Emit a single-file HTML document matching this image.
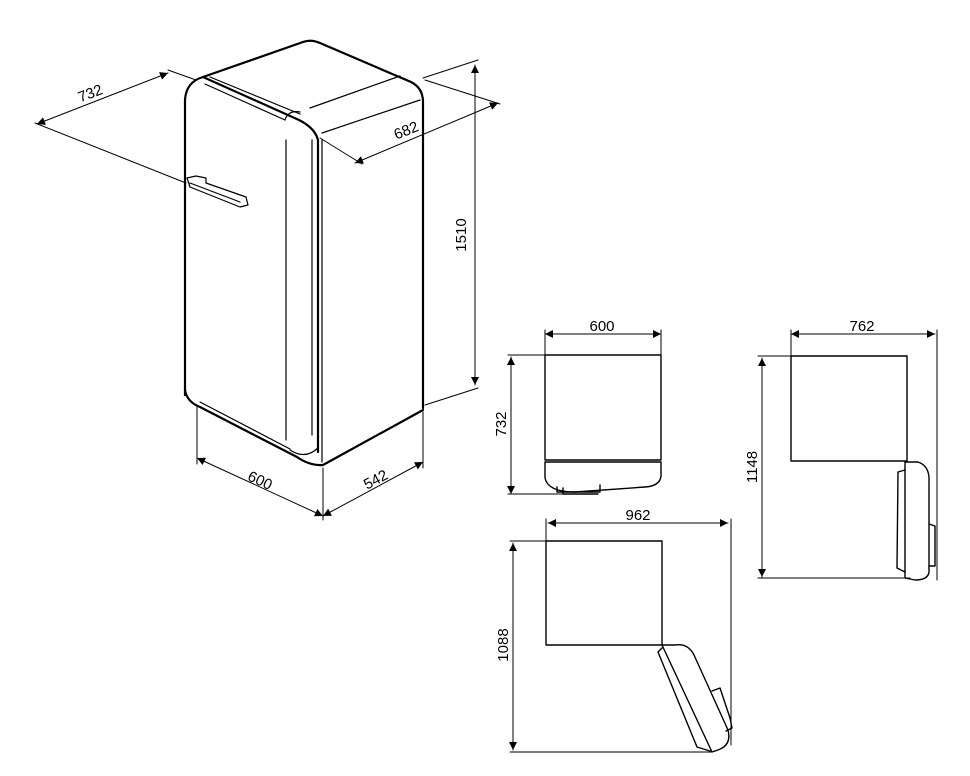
<!DOCTYPE html>
<html><head><meta charset="utf-8"><style>
html,body{margin:0;padding:0;background:#fff;}
svg{display:block;}
text{font-family:"Liberation Sans",sans-serif;font-size:15px;fill:#000;}
</style></head><body>
<svg width="970" height="776" viewBox="0 0 970 776" xmlns="http://www.w3.org/2000/svg">
<defs>
<marker id="a" viewBox="0 0 10 10" refX="10" refY="5" markerWidth="12" markerHeight="8" orient="auto-start-reverse" markerUnits="userSpaceOnUse"><path d="M0,0 L10,5 L0,10 z" fill="#000"/></marker>
</defs>
<g fill="none" stroke="#000" stroke-linecap="round" stroke-linejoin="round">
<g stroke-width="2.2">
<path d="M185,395 L185,100 Q186,82 203,77 L303,42 Q311,39 320,43 L411,82 Q423,88 423,102 L423,408"/>
<path d="M203,77 L299,120 Q315,128 318,140 L318,452"/>
<path d="M185,390 Q187,402 200,407 L297,457 Q310,466 323,465 L423,410"/>
</g>
<g stroke-width="1.2">
<path d="M210,77 L300,114"/>
<path d="M205,84 L285,120"/>
<path d="M310,108 L400,76"/>
<path d="M322,133 L420,100"/>
<path d="M285,120 Q288,110 300,112"/>
<path d="M286,140 L286,440"/>
<path d="M312,140 L312,435"/>
<path d="M322,140 L322,462"/>
<path d="M200,402 L290,449"/>
<path d="M290,450 Q305,460 318,448"/>
<path d="M187,178 L196,176 L206,178 L206,183 L246,197 L248,205 L240,207 L190,187 Z"/>
<path d="M190,183 L240,202"/>
</g>
<g stroke-width="1">
<line x1="37" y1="124" x2="168" y2="73" marker-start="url(#a)" marker-end="url(#a)"/>
<line x1="35" y1="123" x2="186" y2="183"/>
<line x1="168" y1="70" x2="196" y2="80"/>
<line x1="355" y1="163" x2="498" y2="103" marker-start="url(#a)" marker-end="url(#a)"/>
<line x1="320" y1="138" x2="362" y2="164"/>
<line x1="425" y1="80" x2="500" y2="104"/>
<line x1="475" y1="65" x2="475" y2="385" marker-start="url(#a)" marker-end="url(#a)"/>
<line x1="423" y1="78" x2="478" y2="60"/>
<line x1="425" y1="405" x2="478" y2="388"/>
<line x1="197" y1="458" x2="323" y2="516" marker-start="url(#a)" marker-end="url(#a)"/>
<line x1="323" y1="516" x2="423" y2="462" marker-start="url(#a)" marker-end="url(#a)"/>
<line x1="197" y1="407" x2="197" y2="464"/>
<line x1="323" y1="468" x2="323" y2="520"/>
<line x1="423" y1="412" x2="423" y2="468"/>
</g>
<g stroke-width="1.4">
<rect x="545" y="355" width="116" height="105"/>
<path d="M545,462 L661,462 L661,476 Q660,486 645,487 L575,492 Q548,492 545,478 Z"/>
<path d="M557,487 L557,492 L600,492 L600,485"/>
<path d="M563,488 L563,494 L598,494"/>
</g>
<g stroke-width="1">
<line x1="545" y1="334" x2="661" y2="334" marker-start="url(#a)" marker-end="url(#a)"/>
<line x1="545" y1="330" x2="545" y2="355"/><line x1="661" y1="330" x2="661" y2="355"/>
<line x1="511" y1="357" x2="511" y2="494" marker-start="url(#a)" marker-end="url(#a)"/>
<line x1="508" y1="355" x2="545" y2="355"/><line x1="508" y1="494" x2="575" y2="494"/>
</g>
<g stroke-width="1.4">
<rect x="791" y="356" width="116" height="105"/>
<path d="M905,462 L918,462 Q930,466 929,482 L929,572 Q928,580 915,580 L905,578 Z"/>
<path d="M905,470 L898,472 L897,568 L905,572"/>
<path d="M929,524 L935,526 L935,566 L929,566"/>
</g>
<g stroke-width="1">
<line x1="791" y1="334" x2="935" y2="334" marker-start="url(#a)" marker-end="url(#a)"/>
<line x1="791" y1="330" x2="791" y2="356"/><line x1="937" y1="330" x2="937" y2="580"/>
<line x1="762" y1="358" x2="762" y2="577" marker-start="url(#a)" marker-end="url(#a)"/>
<line x1="758" y1="356" x2="791" y2="356"/><line x1="758" y1="578" x2="910" y2="578"/>
</g>
<g stroke-width="1.4">
<rect x="546" y="541" width="116" height="104"/>
<path d="M662,645 L675,645 Q688,643 694,655 L728,730 Q732,745 718,750 L712,752 Z"/>
<path d="M662,648 L658,652 L697,747 L710,751"/>
<path d="M712,691 L720,688 L730,718 L732,728 L726,731"/>
</g>
<g stroke-width="1">
<line x1="548" y1="523" x2="728" y2="523" marker-start="url(#a)" marker-end="url(#a)"/>
<line x1="546" y1="519" x2="546" y2="541"/><line x1="731" y1="519" x2="731" y2="745"/>
<line x1="513" y1="543" x2="513" y2="750" marker-start="url(#a)" marker-end="url(#a)"/>
<line x1="510" y1="541" x2="546" y2="541"/><line x1="510" y1="752" x2="712" y2="752"/>
</g>
</g>
<text x="92" y="98" transform="rotate(-21 92 98)" text-anchor="middle">732</text>
<text x="408" y="135" transform="rotate(-22 408 135)" text-anchor="middle">682</text>
<text x="466" y="235" transform="rotate(-90 466 235)" text-anchor="middle">1510</text>
<text x="258" y="485" transform="rotate(25 258 485)" text-anchor="middle">600</text>
<text x="378" y="484" transform="rotate(-28 378 484)" text-anchor="middle">542</text>
<text x="602" y="331" text-anchor="middle">600</text>
<text x="506" y="424" transform="rotate(-90 506 424)" text-anchor="middle">732</text>
<text x="862" y="331" text-anchor="middle">762</text>
<text x="757" y="467" transform="rotate(-90 757 467)" text-anchor="middle">1148</text>
<text x="638" y="520" text-anchor="middle">962</text>
<text x="508" y="645" transform="rotate(-90 508 645)" text-anchor="middle">1088</text>
</svg>
</body></html>
